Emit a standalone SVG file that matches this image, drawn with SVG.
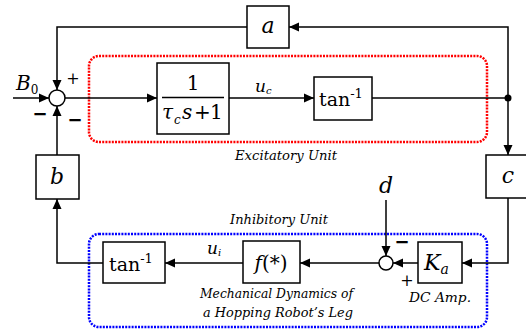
<svg xmlns="http://www.w3.org/2000/svg" width="526" height="335" viewBox="0 0 526 335" font-family="DejaVu Serif, serif">
<style>
.box{fill:#fff;stroke:#000;stroke-width:1.5}
.ln{fill:none;stroke:#000;stroke-width:1.5}
.m{font-style:italic;fill:#000}
.r{fill:#000}
.lab{font-style:italic;font-size:13px;fill:#000}
.sg{font-weight:bold;fill:#000}
</style>
<defs>
<marker id="ar" markerUnits="userSpaceOnUse" markerWidth="12" markerHeight="10" refX="10" refY="5" orient="auto">
<path d="M0,0.5 L10,5 L0,9.5 Z" fill="#000"/>
</marker>
</defs>
<rect x="89" y="56" width="398" height="86" rx="10" fill="none" stroke="#f00" stroke-width="2.5" stroke-dasharray="2,1.2"/>
<rect x="89" y="234" width="398" height="93" rx="10" fill="none" stroke="#00f" stroke-width="2.5" stroke-dasharray="2,1.2"/>
<g id="connectors">
<path class="ln" d="M13,98 H49" marker-end="url(#ar)"/>
<path class="ln" d="M65,98 H157" marker-end="url(#ar)"/>
<path class="ln" d="M229,98 H314" marker-end="url(#ar)"/>
<path class="ln" d="M372,98 H508"/>
<path class="ln" d="M508,98 V27 H289" marker-end="url(#ar)"/>
<path class="ln" d="M247,27 H57 V90" marker-end="url(#ar)"/>
<path class="ln" d="M508,98 V155" marker-end="url(#ar)"/>
<path class="ln" d="M508,198 V263 H462" marker-end="url(#ar)"/>
<path class="ln" d="M418,263 H393" marker-end="url(#ar)"/>
<path class="ln" d="M386,200 V256" marker-end="url(#ar)"/>
<path class="ln" d="M379,263 H300" marker-end="url(#ar)"/>
<path class="ln" d="M243,263 H165" marker-end="url(#ar)"/>
<path class="ln" d="M103,263 H57 V199" marker-end="url(#ar)"/>
<path class="ln" d="M57,155 V106" marker-end="url(#ar)"/>
<circle cx="508" cy="98" r="3.5" fill="#000"/>
</g>
<g id="sum1">
<circle cx="57" cy="98" r="8" fill="#fff" stroke="#000" stroke-width="1.5"/>
<text class="r" x="73" y="84" font-size="16" text-anchor="middle">+</text>
<text class="sg" x="40" y="120" font-size="18" text-anchor="middle" font-family="DejaVu Sans, sans-serif">−</text>
<text class="sg" x="75" y="126" font-size="18" text-anchor="middle" font-family="DejaVu Sans, sans-serif">−</text>
</g>
<g id="B0"><text class="m" x="16" y="90" font-size="20">B<tspan font-style="normal" font-size="12" dy="4">0</tspan></text></g>
<g id="a"><rect class="box" x="247" y="6" width="42" height="42"/><text class="m" x="268" y="33" font-size="22" text-anchor="middle">a</text></g>
<g id="tf"><rect class="box" x="157" y="63" width="72" height="71"/>
<text class="r" x="193" y="90" font-size="20" text-anchor="middle">1</text>
<line x1="162" y1="97.5" x2="224" y2="97.5" stroke="#000" stroke-width="1.3"/>
<text class="m" font-size="20" y="119"><tspan x="162">τ</tspan><tspan x="174" dy="5" font-size="12">c</tspan><tspan x="182" dy="-5">s</tspan><tspan x="194" font-style="normal">+</tspan><tspan x="210" font-style="normal">1</tspan></text>
</g>
<g id="uc"><text class="m" x="255" y="92" font-size="17">u<tspan font-size="10" dy="2">c</tspan></text></g>
<g id="tan1"><rect class="box" x="314" y="77" width="58" height="43"/><text class="r" x="319" y="106" font-size="19">tan<tspan font-size="13" dy="-8">-1</tspan></text></g>
<g id="c"><rect class="box" x="486" y="155" width="44" height="43"/><text class="m" x="508" y="183" font-size="22" text-anchor="middle">c</text></g>
<g id="b"><rect class="box" x="36" y="155" width="43" height="44"/><text class="m" x="57" y="184" font-size="22" text-anchor="middle">b</text></g>
<g id="Ka"><rect class="box" x="418" y="242" width="44" height="41"/><text class="m" x="424" y="270" font-size="22">K<tspan font-size="14" dy="4">a</tspan></text></g>
<g id="sum2"><circle cx="386" cy="263" r="7" fill="#fff" stroke="#000" stroke-width="1.5"/>
<text class="sg" x="402" y="248" font-size="18" text-anchor="middle" font-family="DejaVu Sans, sans-serif">−</text>
<text class="r" x="407" y="286" font-size="16" text-anchor="middle">+</text></g>
<g id="d"><text class="m" x="386" y="193" font-size="22" text-anchor="middle">d</text></g>
<g id="f"><rect class="box" x="243" y="241" width="57" height="42"/><text class="m" x="271" y="270" font-size="20" text-anchor="middle">f<tspan font-style="normal">(*)</tspan></text></g>
<g id="ui"><text class="m" x="207" y="254" font-size="17">u<tspan font-size="10" dy="2">i</tspan></text></g>
<g id="tan2"><rect class="box" x="103" y="242" width="62" height="41"/><text class="r" x="109" y="271" font-size="19">tan<tspan font-size="13" dy="-8">-1</tspan></text></g>
<text class="lab" x="235" y="160" textLength="102" lengthAdjust="spacingAndGlyphs">Excitatory Unit</text>
<text class="lab" x="230" y="224" textLength="98" lengthAdjust="spacingAndGlyphs">Inhibitory Unit</text>
<text class="lab" x="200" y="298" textLength="153" lengthAdjust="spacingAndGlyphs">Mechanical Dynamics of</text>
<text class="lab" x="203" y="317" textLength="150" lengthAdjust="spacingAndGlyphs">a Hopping Robot’s Leg</text>
<text class="lab" x="409" y="302" textLength="62" lengthAdjust="spacingAndGlyphs">DC Amp.</text>
</svg>
